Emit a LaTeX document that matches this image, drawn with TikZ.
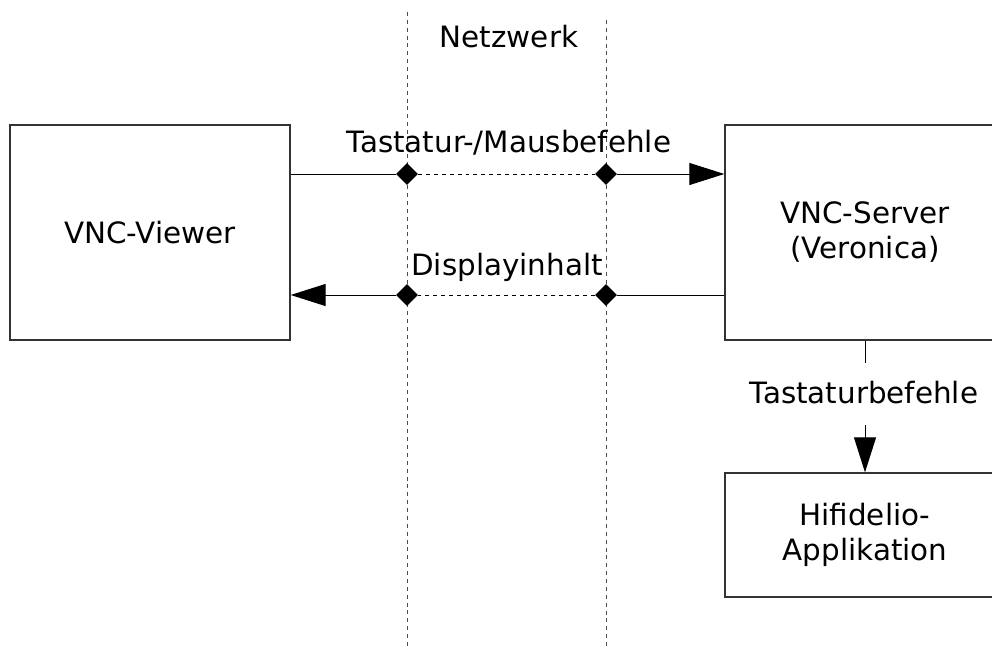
\documentclass[tikz,border=0pt]{standalone}
\usepackage{fontspec}
\setmainfont{DejaVu Sans}
\usetikzlibrary{arrows.meta, shapes.geometric}

\begin{document}
\begin{tikzpicture}[x=0.025cm, y=-0.025cm,
    font=\fontsize{20.9}{24.9}\selectfont,
    box/.style = {draw=black!80, line width=0.9pt, align=center,
        inner sep=0pt, minimum width=7cm, minimum height=5.375cm},
    lane/.style = {draw=black!70, line width=0.6pt, dash pattern=on 2.8pt off 2.8pt},
    link/.style = {line width=0.7pt},
    joint/.style = {diamond, fill=black, inner sep=0pt,
        minimum width=0.55cm, minimum height=0.55cm},
    head/.style = {-{Triangle[length=0.875cm, width=0.55cm]}}]
    \useasboundingbox (0,0) rectangle (992,650);
    % boxes
    \node (viewer) [box] at (150,232.5) {VNC-Viewer};
    \node (server) [box] at (865,232.5) {VNC-Server\\(Veronica)};
    \node (app) [box, minimum height=3.1cm] at (865,535) {Hifidelio-\\Applikation};
    % network lanes
    \coordinate (laneAtop) at (407,12);
    \coordinate (laneAbot) at (407,650);
    \coordinate (laneBtop) at (606,20);
    \coordinate (laneBbot) at (606,650);
    \draw [lane] (laneAtop) -- (laneAbot);
    \draw [lane] (laneBtop) -- (laneBbot);
    \node (net) at (509,37) {Netzwerk};
    % joints
    \node (keyA) [joint] at (407,174) {};
    \node (keyB) [joint] at (606,174) {};
    \node (dispA) [joint] at (407,295) {};
    \node (dispB) [joint] at (606,295) {};
    % keyboard / mouse
    \draw [link] (viewer.east |- keyA) -- (keyA);
    \draw [link, dash pattern=on 2.8pt off 2.8pt] (keyA) -- (keyB);
    \draw [link, head] (keyB) -- (server.west |- keyB);
    \node (keylabel) at (509,143) {Tastatur-/Mausbefehle};
    % display
    \draw [link] (server.west |- dispB) -- (dispB);
    \draw [link, dash pattern=on 2.8pt off 2.8pt] (dispB) -- (dispA);
    \draw [link, head] (dispA) -- (viewer.east |- dispA);
    \node (displabel) at (507,267) {Displayinhalt};
    % server to application
    \node (applabel) at (864,393) {Tastaturbefehle};
    \draw [link] (server.south) -- (server.south |- 0,363);
    \draw [link, head] (server.south |- 0,425) -- (app.north);
\end{tikzpicture}
\end{document}
